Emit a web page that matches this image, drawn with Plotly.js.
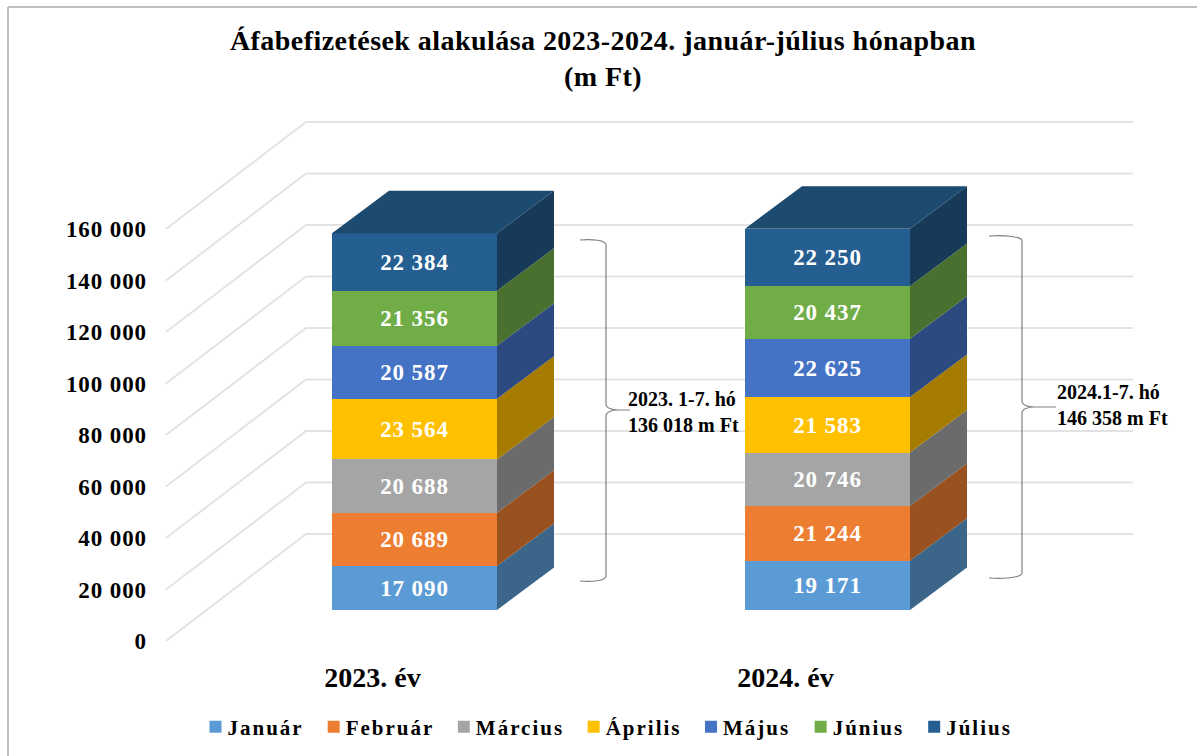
<!DOCTYPE html>
<html><head><meta charset="utf-8">
<script src="https://cdn.plot.ly/plotly-3.0.1.min.js"></script>
<style>
html,body{margin:0;padding:0;background:#fff}
#c{width:1197px;height:756px}
.ytick text{letter-spacing:.9px}
.bartext text,text.bartext{letter-spacing:.9px}
.gtitle{letter-spacing:.45px}
.legendtext{letter-spacing:1.5px;transform:translateX(-8px)}
</style></head><body><div id="c"></div>
<script>
const years=["2023. év","2024. év"];
const months=["Január","Február","Március","Április","Május","Június","Július"];
const v2023=[17090,20689,20688,23564,20587,21356,22384];
const v2024=[19171,21244,20746,21583,22625,20437,22250];
const frontColors=["#5B9BD5","#ED7D31","#A5A5A5","#FFC000","#4472C4","#70AD47","#255E91"];
const sideColors=["#3B6589","#99511F","#6B6B6B","#A67C00","#2C4A80","#49702E","#163A58"];
const topColor="#1D4A6F";
const yTicks=[0,20000,40000,60000,80000,100000,120000,140000,160000];
const noteLines=[["2023. 1-7. hó<br>136 018 m Ft",626,412],["2024.1-7. hó<br>146 358 m Ft",1055,405]];

const W=1197,H=756,L=148,T=8,Y0=641,ppu=413,ppv=0.002575,X0=372.5;
const bar0=414.5,barBase=610,barW=165/ppu,dX=57/ppu,dV=42.5/ppv;
const fmt=n=>String(n).replace(/\B(?=(\d{3})+$)/g," ");
const px2x=p=>(p-X0)/ppu, px2y=p=>(Y0-p)/ppv;
const series=[v2023,v2024];
const traces=[];

// walls
const wx=[],wy=[],wall=107/ppv;
yTicks.forEach(t=>{wx.push(px2x(166),px2x(306),px2x(1133),null);wy.push(t,t+wall,t+wall,null);});
traces.push({type:"scatter",mode:"lines",x:wx,y:wy,xaxis:"x",yaxis:"y",line:{color:"#E3E3E3",width:2},showlegend:false,hoverinfo:"skip"});

// stacked fronts
months.forEach((m,i)=>{
  traces.push({type:"bar",name:m,x:[0,1],y:series.map(s=>s[i]),width:barW,xaxis:"x2",yaxis:"y2",
    marker:{color:frontColors[i],line:{width:0}},text:series.map(s=>fmt(s[i])),textposition:"inside",
    insidetextanchor:"middle",textangle:0,constraintext:"none",
    textfont:{family:"Liberation Serif",size:23,color:"#fff",weight:700},hoverinfo:"name+y"});
});
// side faces
months.forEach((m,i)=>{
  const sx=[],sy=[];
  series.forEach((s,k)=>{
    const b=s.slice(0,i).reduce((a,c)=>a+c,0),t=b+s[i],r=k+barW/2;
    sx.push(r,r+dX,r+dX,r,r,null);sy.push(b,b+dV,t+dV,t,b,null);
  });
  traces.push({type:"scatter",mode:"lines",x:sx,y:sy,xaxis:"x2",yaxis:"y2",fill:"toself",fillcolor:sideColors[i],line:{width:0},showlegend:false,hoverinfo:"skip"});
});
// top faces
{const sx=[],sy=[];
 series.forEach((s,k)=>{const t=s.reduce((a,c)=>a+c,0),l=k-barW/2,r=k+barW/2;
  sx.push(l,r,r+dX,l+dX,l,null);sy.push(t,t,t+dV,t+dV,t,null);});
 traces.push({type:"scatter",mode:"lines",x:sx,y:sy,xaxis:"x2",yaxis:"y2",fill:"toself",fillcolor:topColor,line:{width:0},showlegend:false,hoverinfo:"skip"});}

const brace=(x0,xv,xt,yt,ym,yb)=>{
  const P=(a,b)=>px2x(a)+","+px2y(b);
  return {type:"path",xref:"x",yref:"y",line:{color:"#808080",width:1.2},
   path:"M"+P(x0,yt)+" C"+P(x0+12,yt-1)+" "+P(xv,yt)+" "+P(xv,yt+5)+" L"+P(xv,ym-6)+" C"+P(xv,ym-2)+" "+P(xv+6,ym)+" "+P(xv+12,ym)
     +" L"+P(xt,ym)+" L"+P(xv+12,ym)+" C"+P(xv+6,ym)+" "+P(xv,ym+2)+" "+P(xv,ym+6)+" L"+P(xv,yb-5)+" C"+P(xv,yb)+" "+P(x0+12,yb+1)+" "+P(x0,yb)};
};
const font=(size)=>({family:"Liberation Serif",size:size,color:"#000",weight:700});
const layout={
  width:W,height:H,paper_bgcolor:"#fff",plot_bgcolor:"rgba(0,0,0,0)",
  margin:{l:L,r:0,t:T,b:H-Y0,pad:0},
  barmode:"stack",bargap:0,showlegend:true,
  title:{text:"Áfabefizetések alakulása 2023-2024. január-július hónapban<br>(m Ft)",font:font(28),x:603/W,xref:"container",xanchor:"center",y:1-50/H,yref:"container",yanchor:"top"},
  xaxis:{range:[px2x(L),px2x(W)],tickvals:[0,1],ticktext:years,tickfont:font(28),ticks:"outside",ticklen:11,tickcolor:"rgba(0,0,0,0)",showgrid:false,zeroline:false,showline:false,fixedrange:true},
  yaxis:{range:[0,px2y(T)],tickvals:yTicks,ticktext:yTicks.map(fmt),tickfont:font(23),showgrid:false,zeroline:false,showline:false,ticks:"",fixedrange:true},
  xaxis2:{overlaying:"x",anchor:"y2",range:[(L-bar0)/ppu,(W-bar0)/ppu],visible:false,fixedrange:true},
  yaxis2:{overlaying:"y",anchor:"x2",range:[(barBase-Y0)/ppv,(barBase-T)/ppv],visible:false,fixedrange:true},
  legend:{orientation:"h",xref:"container",yref:"container",x:609/W,xanchor:"center",y:1-727/H,yanchor:"middle",font:font(21),itemwidth:30,itemclick:false,traceorder:"normal",bgcolor:"rgba(0,0,0,0)"},
  annotations:noteLines.map(n=>({xref:"x",yref:"y",x:px2x(n[1]),y:px2y(n[2]),text:n[0],showarrow:false,xanchor:"left",yanchor:"middle",align:"left",font:font(20),bgcolor:"rgba(0,0,0,0)"})),
  shapes:[
    brace(580,606,630,240,410,581),
    brace(989,1022,1056,236,407,578),
    {type:"line",xref:"paper",yref:"paper",x0:(8-L)/(W-L),x1:(8-L)/(W-L),y0:(Y0-H)/(Y0-T),y1:(Y0-7)/(Y0-T),line:{color:"#BFBFBF",width:2}},
    {type:"line",xref:"paper",yref:"paper",x0:(8-L)/(W-L),x1:1,y0:(Y0-7)/(Y0-T),y1:(Y0-7)/(Y0-T),line:{color:"#BFBFBF",width:2}}
  ]
};
Plotly.newPlot("c",traces,layout,{displayModeBar:false,responsive:false}).then(()=>{
  document.querySelectorAll(".legendtext").forEach(t=>{t.style.letterSpacing="2px";});
});
</script></body></html>
